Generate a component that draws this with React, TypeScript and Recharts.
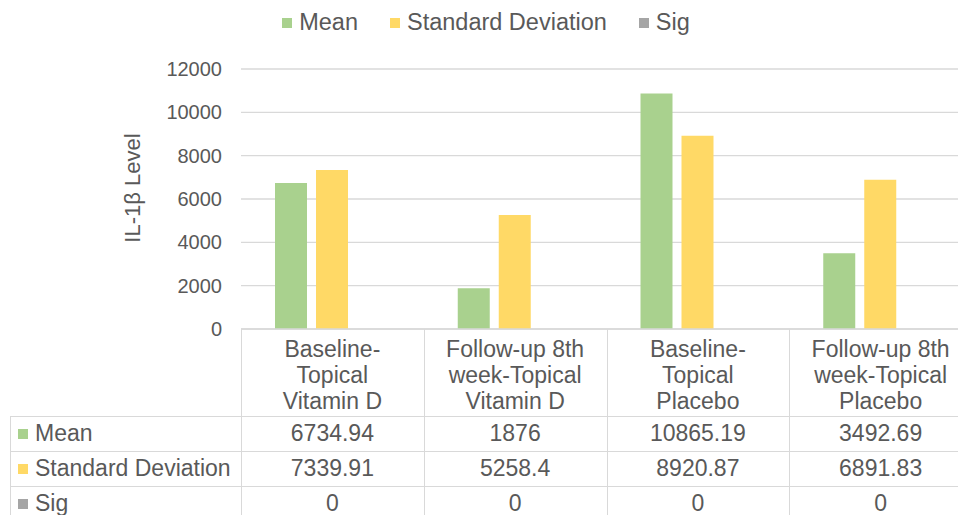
import { BarChart, Bar, XAxis, YAxis, CartesianGrid, Label } from 'recharts'

const categoryLines = [
  ['Baseline-', 'Topical', 'Vitamin D'],
  ['Follow-up 8th', 'week-Topical', 'Vitamin D'],
  ['Baseline-', 'Topical', 'Placebo'],
  ['Follow-up 8th', 'week-Topical', 'Placebo'],
]
const categories = categoryLines.map((l) => l.join(' '))
const meanValues = [6734.94, 1876, 10865.19, 3492.69]
const sdValues = [7339.91, 5258.4, 8920.87, 6891.83]
const sigValues = [0, 0, 0, 0]
const yTicks = [0, 2000, 4000, 6000, 8000, 10000, 12000]

const series = [
  { key: 'mean', name: 'Mean', color: '#A9D18E', values: meanValues },
  { key: 'sd', name: 'Standard Deviation', color: '#FFD966', values: sdValues },
  { key: 'sig', name: 'Sig', color: '#A5A5A5', values: sigValues },
]

const data = categories.map((name, i) => ({
  name,
  mean: meanValues[i],
  sd: sdValues[i],
  sig: sigValues[i],
}))

const FONT = '"Liberation Sans", Arial, sans-serif'
const TEXT = '#595959'
const BORDER = '#D9D9D9'

// geometry of the plot
const chartW = 972
const plotLeft = 241
const plotTop = 69
const plotBottom = 329
const colW = (chartW - plotLeft) / categories.length
const rowTops = [416, 451, 486]
const rowH = 35

function CategoryTick({ x, y, index }: any) {
  const lines = categoryLines[index] || []
  return (
    <text x={x} y={y} textAnchor="middle" fill={TEXT} fontSize={23} fontFamily={FONT}>
      {lines.map((l, i) => (
        <tspan key={i} x={x} y={y + 20 + i * 26}>
          {l}
        </tspan>
      ))}
    </text>
  )
}

export default function App() {
  return (
    <div
      style={{
        position: 'absolute',
        left: 0,
        top: 0,
        width: 958,
        height: 515,
        overflow: 'hidden',
        background: '#fff',
        fontFamily: FONT,
        color: TEXT,
      }}
    >
      {/* Legend */}
      <div style={{ position: 'absolute', top: 9, left: 0, width: chartW, display: 'flex', justifyContent: 'center', gap: 32, fontSize: 23.5 }}>
        {series.map((s) => (
          <div key={s.key} style={{ display: 'flex', alignItems: 'center', gap: 7 }}>
            <span style={{ width: 10, height: 10, background: s.color, display: 'inline-block' }} />
            <span>{s.name}</span>
          </div>
        ))}
      </div>

      <div style={{ position: 'absolute', left: 0, top: 0 }}>
        <BarChart
          width={chartW}
          height={515}
          data={data}
          margin={{ top: plotTop, right: 0, left: 0, bottom: 0 }}
          barSize={32}
          barGap={9}
        >
          <CartesianGrid vertical={false} stroke={BORDER} strokeWidth={1.3} />
          <XAxis
            dataKey="name"
            height={515 - plotBottom}
            interval={0}
            axisLine={{ stroke: BORDER, strokeWidth: 1.3 }}
            tickLine={false}
            tick={<CategoryTick />}
          />
          <YAxis
            width={plotLeft}
            domain={[0, 12000]}
            ticks={yTicks}
            axisLine={false}
            tickLine={false}
            tickMargin={13}
            tick={{ fill: TEXT, fontSize: 20, fontFamily: FONT }}
          >
            <Label
              content={() => (
                <text
                  x={140}
                  y={188}
                  transform="rotate(-90 140 188)"
                  textAnchor="middle"
                  fill={TEXT}
                  fontSize={22}
                  fontFamily={FONT}
                >
                  IL-1β Level
                </text>
              )}
            />
          </YAxis>
          {series.map((s) => (
            <Bar key={s.key} dataKey={s.key} name={s.name} fill={s.color} isAnimationActive={false} />
          ))}
        </BarChart>
      </div>

      {/* Data table */}
      {categories.map((c, i) => (
        <div
          key={'v' + c + i}
          style={{ position: 'absolute', left: plotLeft + i * colW, top: plotBottom, width: 0, height: 515 - plotBottom, borderLeft: `1.3px solid ${BORDER}` }}
        />
      ))}
      <div style={{ position: 'absolute', left: 10, top: rowTops[0], width: 0, height: 515 - rowTops[0], borderLeft: `1.3px solid ${BORDER}` }} />
      {series.map((s, r) => (
        <div key={s.key}>
          <div style={{ position: 'absolute', left: 10, top: rowTops[r], width: chartW - 10, height: 0, borderTop: `1.3px solid ${BORDER}` }} />
          <div style={{ position: 'absolute', left: 18, top: rowTops[r], height: rowH, display: 'flex', alignItems: 'center', gap: 7, fontSize: 23 }}>
            <span style={{ width: 10, height: 10, background: s.color, display: 'inline-block' }} />
            <span>{s.name}</span>
          </div>
          {s.values.map((v, i) => (
            <div
              key={i}
              style={{ position: 'absolute', left: plotLeft + i * colW, top: rowTops[r], width: colW, height: rowH, display: 'flex', alignItems: 'center', justifyContent: 'center', fontSize: 23 }}
            >
              {v}
            </div>
          ))}
        </div>
      ))}
    </div>
  )
}
